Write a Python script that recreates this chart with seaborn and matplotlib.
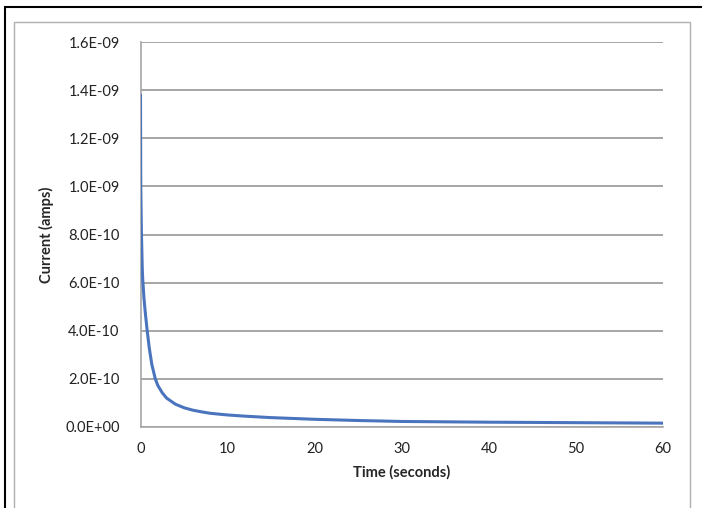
import matplotlib
matplotlib.use("Agg")
import matplotlib.pyplot as plt
import matplotlib.ticker as mticker
from matplotlib.patches import Rectangle
import seaborn as sns
import pandas as pd

# current decay
time_s = [0, 0.03, 0.1, 0.2, 0.26, 0.4, 0.55, 0.77, 1.0, 1.3, 1.7, 2.0, 2.5,
          3, 4, 5, 6, 7, 8, 10, 12, 15, 20, 25, 30, 40, 50, 60]
current_e10 = [13.8, 10.0, 8.2, 6.6, 6.1, 5.35, 4.75, 4.0, 3.3, 2.6, 2.0,
               1.72, 1.42, 1.2, 0.95, 0.8, 0.7, 0.63, 0.57, 0.5, 0.45, 0.39,
               0.32, 0.27, 0.23, 0.2, 0.18, 0.16]
y_ticks = [0, 2e-10, 4e-10, 6e-10, 8e-10, 1.0e-9, 1.2e-9, 1.4e-9, 1.6e-9]
x_ticks = [0, 10, 20, 30, 40, 50, 60]

df = pd.DataFrame({'time': time_s, 'current': [c * 1e-10 for c in current_e10]})

sns.set_style('white')
plt.rcParams['font.family'] = ['Lato', 'DejaVu Sans']

fig = plt.figure(figsize=(7.02, 5.08), dpi=100)
# outer black frame and inner grey chart border
fig.add_artist(Rectangle((5 / 702, -0.05), 1.2, 1 - 7 / 508 + 0.05,
                         transform=fig.transFigure, fill=False,
                         edgecolor='black', linewidth=1.5))
fig.add_artist(Rectangle((14 / 702, -0.05), (690 - 14) / 702, 1 - 22 / 508 + 0.05,
                         transform=fig.transFigure, fill=False,
                         edgecolor='#b0b0b0', linewidth=1.0))

ax = fig.add_axes([140.5 / 702, 1 - 427 / 508, (663 - 140.5) / 702, (427 - 42) / 508])
sns.lineplot(x='time', y='current', data=df, ax=ax, color='#4a74bd',
             linewidth=2.2, zorder=3)

ax.set_xlim(0, 60)
ax.set_ylim(0, 1.6e-9)
ax.set_xticks(x_ticks)
ax.set_yticks(y_ticks)
ax.yaxis.set_major_formatter(mticker.FuncFormatter(
    lambda v, p: '0.0E+00' if v == 0 else '%.1E' % v))
ax.yaxis.grid(True, color='#a6a6a6', linewidth=1.4)
ax.xaxis.grid(False)
for side in ['top', 'right']:
    ax.spines[side].set_visible(False)
for side in ['left', 'bottom']:
    ax.spines[side].set_color('#a6a6a6')
    ax.spines[side].set_linewidth(1.2)
ax.tick_params(axis='both', direction='out', length=5, width=1.2,
               color='#a6a6a6', labelsize=10.5, labelcolor='#222222')
ax.tick_params(axis='y', pad=10)
ax.tick_params(axis='x', pad=6)

ax.set_xlabel('Time (seconds)', fontsize=10.5, fontweight='bold', labelpad=6)
ax.set_ylabel('Current (amps)', fontsize=10.5, fontweight='bold', labelpad=8)

fig.savefig('out.png', dpi=100)
